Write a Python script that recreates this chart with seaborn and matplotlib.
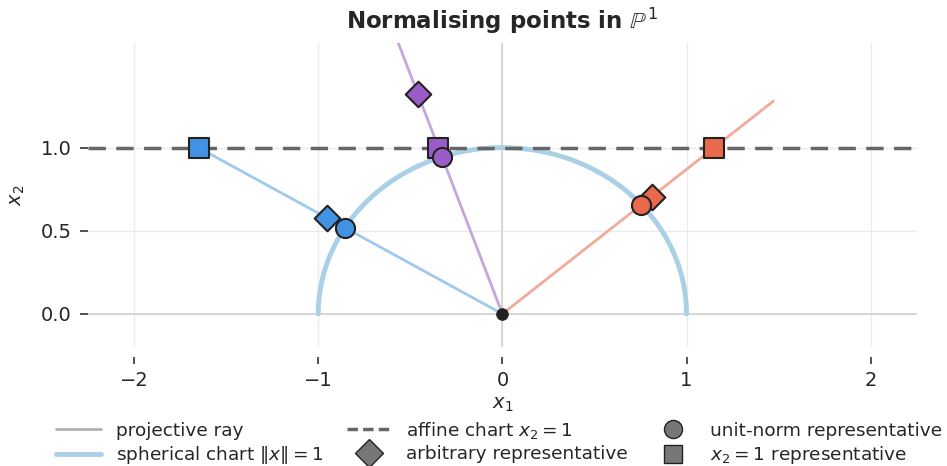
import numpy as np
import pandas as pd
import seaborn as sns
import matplotlib.pyplot as plt
from matplotlib.lines import Line2D

# representatives of three points of P^1 (x2 = 1 chart)
ray_names = ['blue', 'purple', 'orange']
affine_x1 = [-1.65, -0.347, 1.15]
affine_x2 = [1.0, 1.0, 1.0]
# arbitrary representative = scale * (x1, 1)
arbitrary_scale = [0.578, 1.32, 0.705]
ray_length = 1.95

marker_colors = ['#4393e4', '#9a5cc6', '#e9694c']
line_colors = ['#9fc9ee', '#c4a6dd', '#f2aa99']

sns.set_theme(style="whitegrid")
plt.rcParams['font.family'] = ['DejaVu Sans']
plt.rcParams['mathtext.fontset'] = 'dejavusans'

fig, ax = plt.subplots(figsize=(9.47, 4.66), dpi=100)
fig.subplots_adjust(left=0.093, right=0.968, top=0.908, bottom=0.255)

ax.axhline(0, color='#d4d4d4', lw=1.3, zorder=1)
ax.axvline(0, color='#d4d4d4', lw=1.3, zorder=1)

# spherical chart (upper unit semicircle)
theta = np.linspace(0, np.pi, 200)
circle = pd.DataFrame({'x': np.cos(theta), 'y': np.sin(theta)})
sns.lineplot(data=circle, x='x', y='y', sort=False, estimator=None,
             color='#a9d0e6', lw=3.5, ax=ax, zorder=2)

# affine chart x2 = 1
ax.axhline(1.0, color='#666666', lw=2.5, ls=(0, (5, 3)), zorder=3)

for i in range(len(ray_names)):
    a = np.array([affine_x1[i], affine_x2[i]])
    u = a / np.linalg.norm(a)
    end = u * ray_length
    sns.lineplot(x=[0, end[0]], y=[0, end[1]], sort=False, estimator=None,
                 color=line_colors[i], lw=2, ax=ax, zorder=2)
    d = a * arbitrary_scale[i]
    kw = dict(color=marker_colors[i], edgecolor='#222222', linewidth=1.5, ax=ax, zorder=5)
    sns.scatterplot(x=[a[0]], y=[a[1]], marker='s', s=200, **kw)
    sns.scatterplot(x=[d[0]], y=[d[1]], marker='D', s=170, **kw)
    sns.scatterplot(x=[u[0]], y=[u[1]], marker='o', s=190, **kw)

sns.scatterplot(x=[0], y=[0], color='#222222', s=70, edgecolor='#222222', ax=ax, zorder=6)

ax.set_xlim(-2.25, 2.25)
ax.set_ylim(-0.2, 1.63)
ax.set_xticks([-2, -1, 0, 1, 2])
ax.set_yticks([0.0, 0.5, 1.0])
ax.set_yticklabels(['0.0', '0.5', '1.0'])
ax.grid(color='#ebebeb', lw=1)
sns.despine(ax=ax, left=True, bottom=True)
ax.spines['bottom'].set_position(('outward', 7))
ax.tick_params(axis='both', which='both', length=5, width=1.2, color='#333333',
               labelsize=14, direction='out', bottom=True, left=True, pad=5)
ax.tick_params(axis='y', length=6, pad=6)
ax.set_xlabel('$x_1$', fontsize=14, labelpad=4)
ax.set_ylabel('$x_2$', fontsize=14, labelpad=10)
ax.set_title(r'Normalising points in $\mathbb{P}^1$', fontsize=16.5, fontweight='bold', pad=10)

handles = [
    Line2D([], [], color='#b0b0b0', lw=2),
    Line2D([], [], color='#a9d0e6', lw=3.5),
    Line2D([], [], color='#666666', lw=2.5, ls=(0, (3, 1.5))),
    Line2D([], [], marker='D', color='#777777', mec='#222222', ls='', ms=14),
    Line2D([], [], marker='o', color='#777777', mec='#222222', ls='', ms=13),
    Line2D([], [], marker='s', color='#777777', mec='#222222', ls='', ms=13),
]
labels = ['projective ray', r'spherical chart $\|x\| = 1$', r'affine chart $x_2 = 1$',
          'arbitrary representative', 'unit-norm representative', r'$x_2 = 1$ representative']
fig.legend(handles, labels, loc='upper center', bbox_to_anchor=(0.527, 0.115), ncol=3,
           frameon=False, fontsize=13.3, columnspacing=1.25, handlelength=2.4,
           labelspacing=0.25, borderaxespad=0)

fig.savefig('out.png', dpi=100)
